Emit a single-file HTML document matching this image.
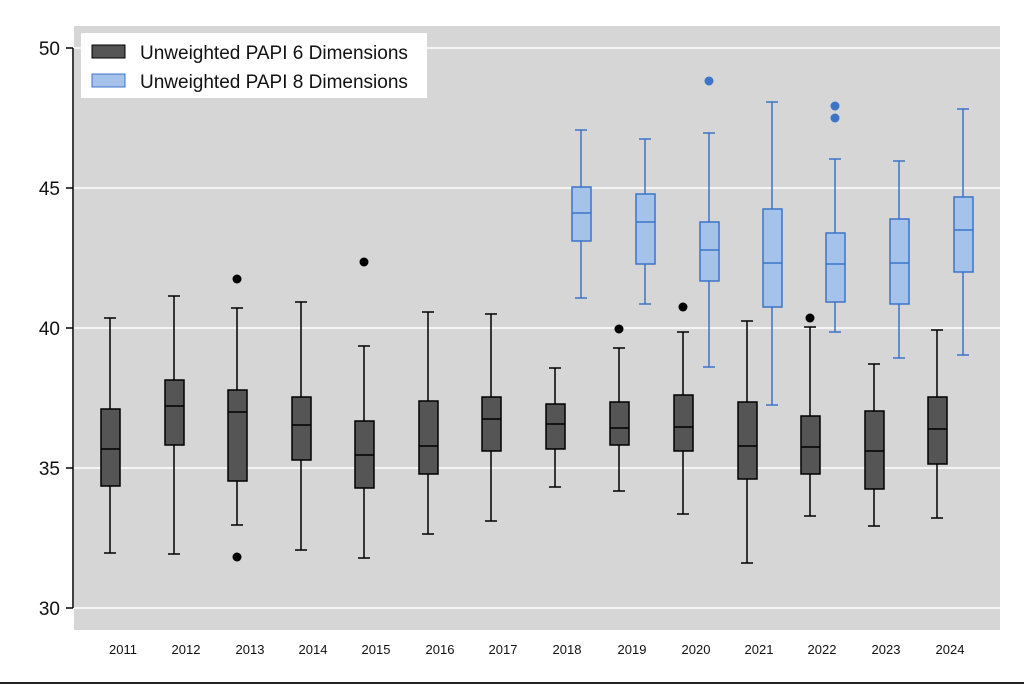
<!DOCTYPE html><html><head><style>body{margin:0;background:#fff}svg{display:block;font-family:"Liberation Sans",sans-serif}</style></head><body>
<svg width="1024" height="685" xmlns="http://www.w3.org/2000/svg">
<rect x="74" y="26" width="926" height="604" fill="#d6d6d6"/>
<g stroke="#fff" stroke-width="1.5"><line x1="74" x2="1000" y1="48" y2="48"/><line x1="74" x2="1000" y1="188" y2="188"/><line x1="74" x2="1000" y1="328" y2="328"/><line x1="74" x2="1000" y1="468" y2="468"/><line x1="74" x2="1000" y1="608" y2="608"/></g>
<g stroke="#000" stroke-width="1.5"><line x1="73" x2="73" y1="48" y2="608"/><line x1="66" x2="73" y1="48" y2="48"/><line x1="66" x2="73" y1="188" y2="188"/><line x1="66" x2="73" y1="328" y2="328"/><line x1="66" x2="73" y1="468" y2="468"/><line x1="66" x2="73" y1="608" y2="608"/></g>
<g font-size="19" text-anchor="end" fill="#111"><text x="60" y="55">50</text><text x="60" y="195">45</text><text x="60" y="335">40</text><text x="60" y="475">35</text><text x="60" y="615">30</text></g>
<g font-size="13" text-anchor="middle" fill="#111"><text x="123" y="654">2011</text><text x="186" y="654">2012</text><text x="250" y="654">2013</text><text x="313" y="654">2014</text><text x="376" y="654">2015</text><text x="440" y="654">2016</text><text x="503" y="654">2017</text><text x="567" y="654">2018</text><text x="632" y="654">2019</text><text x="696" y="654">2020</text><text x="759" y="654">2021</text><text x="822" y="654">2022</text><text x="886" y="654">2023</text><text x="950" y="654">2024</text></g>
<line x1="0" x2="1024" y1="683" y2="683" stroke="#222" stroke-width="2"/>

<g stroke="#000" stroke-width="1.5" fill="#555">
<line x1="110" x2="110" y1="318" y2="553"/><line x1="104" x2="116" y1="318" y2="318"/><line x1="104" x2="116" y1="553" y2="553"/><rect x="101" y="409" width="19" height="77"/><line x1="101" x2="120" y1="449" y2="449"/>
<line x1="174" x2="174" y1="296" y2="554"/><line x1="168" x2="180" y1="296" y2="296"/><line x1="168" x2="180" y1="554" y2="554"/><rect x="165" y="380" width="19" height="65"/><line x1="165" x2="184" y1="406" y2="406"/>
<line x1="237" x2="237" y1="308" y2="525"/><line x1="231" x2="243" y1="308" y2="308"/><line x1="231" x2="243" y1="525" y2="525"/><rect x="228" y="390" width="19" height="91"/><line x1="228" x2="247" y1="412" y2="412"/>
<line x1="301" x2="301" y1="302" y2="550"/><line x1="295" x2="307" y1="302" y2="302"/><line x1="295" x2="307" y1="550" y2="550"/><rect x="292" y="397" width="19" height="63"/><line x1="292" x2="311" y1="425" y2="425"/>
<line x1="364" x2="364" y1="346" y2="558"/><line x1="358" x2="370" y1="346" y2="346"/><line x1="358" x2="370" y1="558" y2="558"/><rect x="355" y="421" width="19" height="67"/><line x1="355" x2="374" y1="455" y2="455"/>
<line x1="428" x2="428" y1="312" y2="534"/><line x1="422" x2="434" y1="312" y2="312"/><line x1="422" x2="434" y1="534" y2="534"/><rect x="419" y="401" width="19" height="73"/><line x1="419" x2="438" y1="446" y2="446"/>
<line x1="491" x2="491" y1="314" y2="521"/><line x1="485" x2="497" y1="314" y2="314"/><line x1="485" x2="497" y1="521" y2="521"/><rect x="482" y="397" width="19" height="54"/><line x1="482" x2="501" y1="419" y2="419"/>
<line x1="555" x2="555" y1="368" y2="487"/><line x1="549" x2="561" y1="368" y2="368"/><line x1="549" x2="561" y1="487" y2="487"/><rect x="546" y="404" width="19" height="45"/><line x1="546" x2="565" y1="424" y2="424"/>
<line x1="619" x2="619" y1="348" y2="491"/><line x1="613" x2="625" y1="348" y2="348"/><line x1="613" x2="625" y1="491" y2="491"/><rect x="610" y="402" width="19" height="43"/><line x1="610" x2="629" y1="428" y2="428"/>
<line x1="683" x2="683" y1="332" y2="514"/><line x1="677" x2="689" y1="332" y2="332"/><line x1="677" x2="689" y1="514" y2="514"/><rect x="674" y="395" width="19" height="56"/><line x1="674" x2="693" y1="427" y2="427"/>
<line x1="747" x2="747" y1="321" y2="563"/><line x1="741" x2="753" y1="321" y2="321"/><line x1="741" x2="753" y1="563" y2="563"/><rect x="738" y="402" width="19" height="77"/><line x1="738" x2="757" y1="446" y2="446"/>
<line x1="810" x2="810" y1="327" y2="516"/><line x1="804" x2="816" y1="327" y2="327"/><line x1="804" x2="816" y1="516" y2="516"/><rect x="801" y="416" width="19" height="58"/><line x1="801" x2="820" y1="447" y2="447"/>
<line x1="874" x2="874" y1="364" y2="526"/><line x1="868" x2="880" y1="364" y2="364"/><line x1="868" x2="880" y1="526" y2="526"/><rect x="865" y="411" width="19" height="78"/><line x1="865" x2="884" y1="451" y2="451"/>
<line x1="937" x2="937" y1="330" y2="518"/><line x1="931" x2="943" y1="330" y2="330"/><line x1="931" x2="943" y1="518" y2="518"/><rect x="928" y="397" width="19" height="67"/><line x1="928" x2="947" y1="429" y2="429"/>
</g>
<g fill="#000"><circle cx="237" cy="279" r="4.5"/><circle cx="237" cy="557" r="4.5"/><circle cx="364" cy="262" r="4.5"/><circle cx="619" cy="329" r="4.5"/><circle cx="683" cy="307" r="4.5"/><circle cx="810" cy="318" r="4.5"/></g>

<g stroke="#3c74c8" stroke-width="1.5" fill="#a4c2ea">
<line x1="581" x2="581" y1="130" y2="298"/><line x1="575" x2="587" y1="130" y2="130"/><line x1="575" x2="587" y1="298" y2="298"/><rect x="572" y="187" width="19" height="54"/><line x1="572" x2="591" y1="213" y2="213"/>
<line x1="645" x2="645" y1="139" y2="304"/><line x1="639" x2="651" y1="139" y2="139"/><line x1="639" x2="651" y1="304" y2="304"/><rect x="636" y="194" width="19" height="70"/><line x1="636" x2="655" y1="222" y2="222"/>
<line x1="709" x2="709" y1="133" y2="367"/><line x1="703" x2="715" y1="133" y2="133"/><line x1="703" x2="715" y1="367" y2="367"/><rect x="700" y="222" width="19" height="59"/><line x1="700" x2="719" y1="250" y2="250"/>
<line x1="772" x2="772" y1="102" y2="405"/><line x1="766" x2="778" y1="102" y2="102"/><line x1="766" x2="778" y1="405" y2="405"/><rect x="763" y="209" width="19" height="98"/><line x1="763" x2="782" y1="263" y2="263"/>
<line x1="835" x2="835" y1="159" y2="332"/><line x1="829" x2="841" y1="159" y2="159"/><line x1="829" x2="841" y1="332" y2="332"/><rect x="826" y="233" width="19" height="69"/><line x1="826" x2="845" y1="264" y2="264"/>
<line x1="899" x2="899" y1="161" y2="358"/><line x1="893" x2="905" y1="161" y2="161"/><line x1="893" x2="905" y1="358" y2="358"/><rect x="890" y="219" width="19" height="85"/><line x1="890" x2="909" y1="263" y2="263"/>
<line x1="963" x2="963" y1="109" y2="355"/><line x1="957" x2="969" y1="109" y2="109"/><line x1="957" x2="969" y1="355" y2="355"/><rect x="954" y="197" width="19" height="75"/><line x1="954" x2="973" y1="230" y2="230"/>
</g>
<g fill="#3c74c8"><circle cx="709" cy="81" r="4.5"/><circle cx="835" cy="106" r="4.5"/><circle cx="835" cy="118" r="4.5"/></g>

<rect x="81" y="33" width="346" height="65" fill="#fff"/>
<rect x="92" y="45" width="33" height="13" fill="#555" stroke="#000"/>
<rect x="92" y="74" width="33" height="13" fill="#a4c2ea" stroke="#3c74c8"/>
<g font-size="19" fill="#111"><text x="140" y="59">Unweighted PAPI 6 Dimensions</text><text x="140" y="88">Unweighted PAPI 8 Dimensions</text></g>
</svg></body></html>
